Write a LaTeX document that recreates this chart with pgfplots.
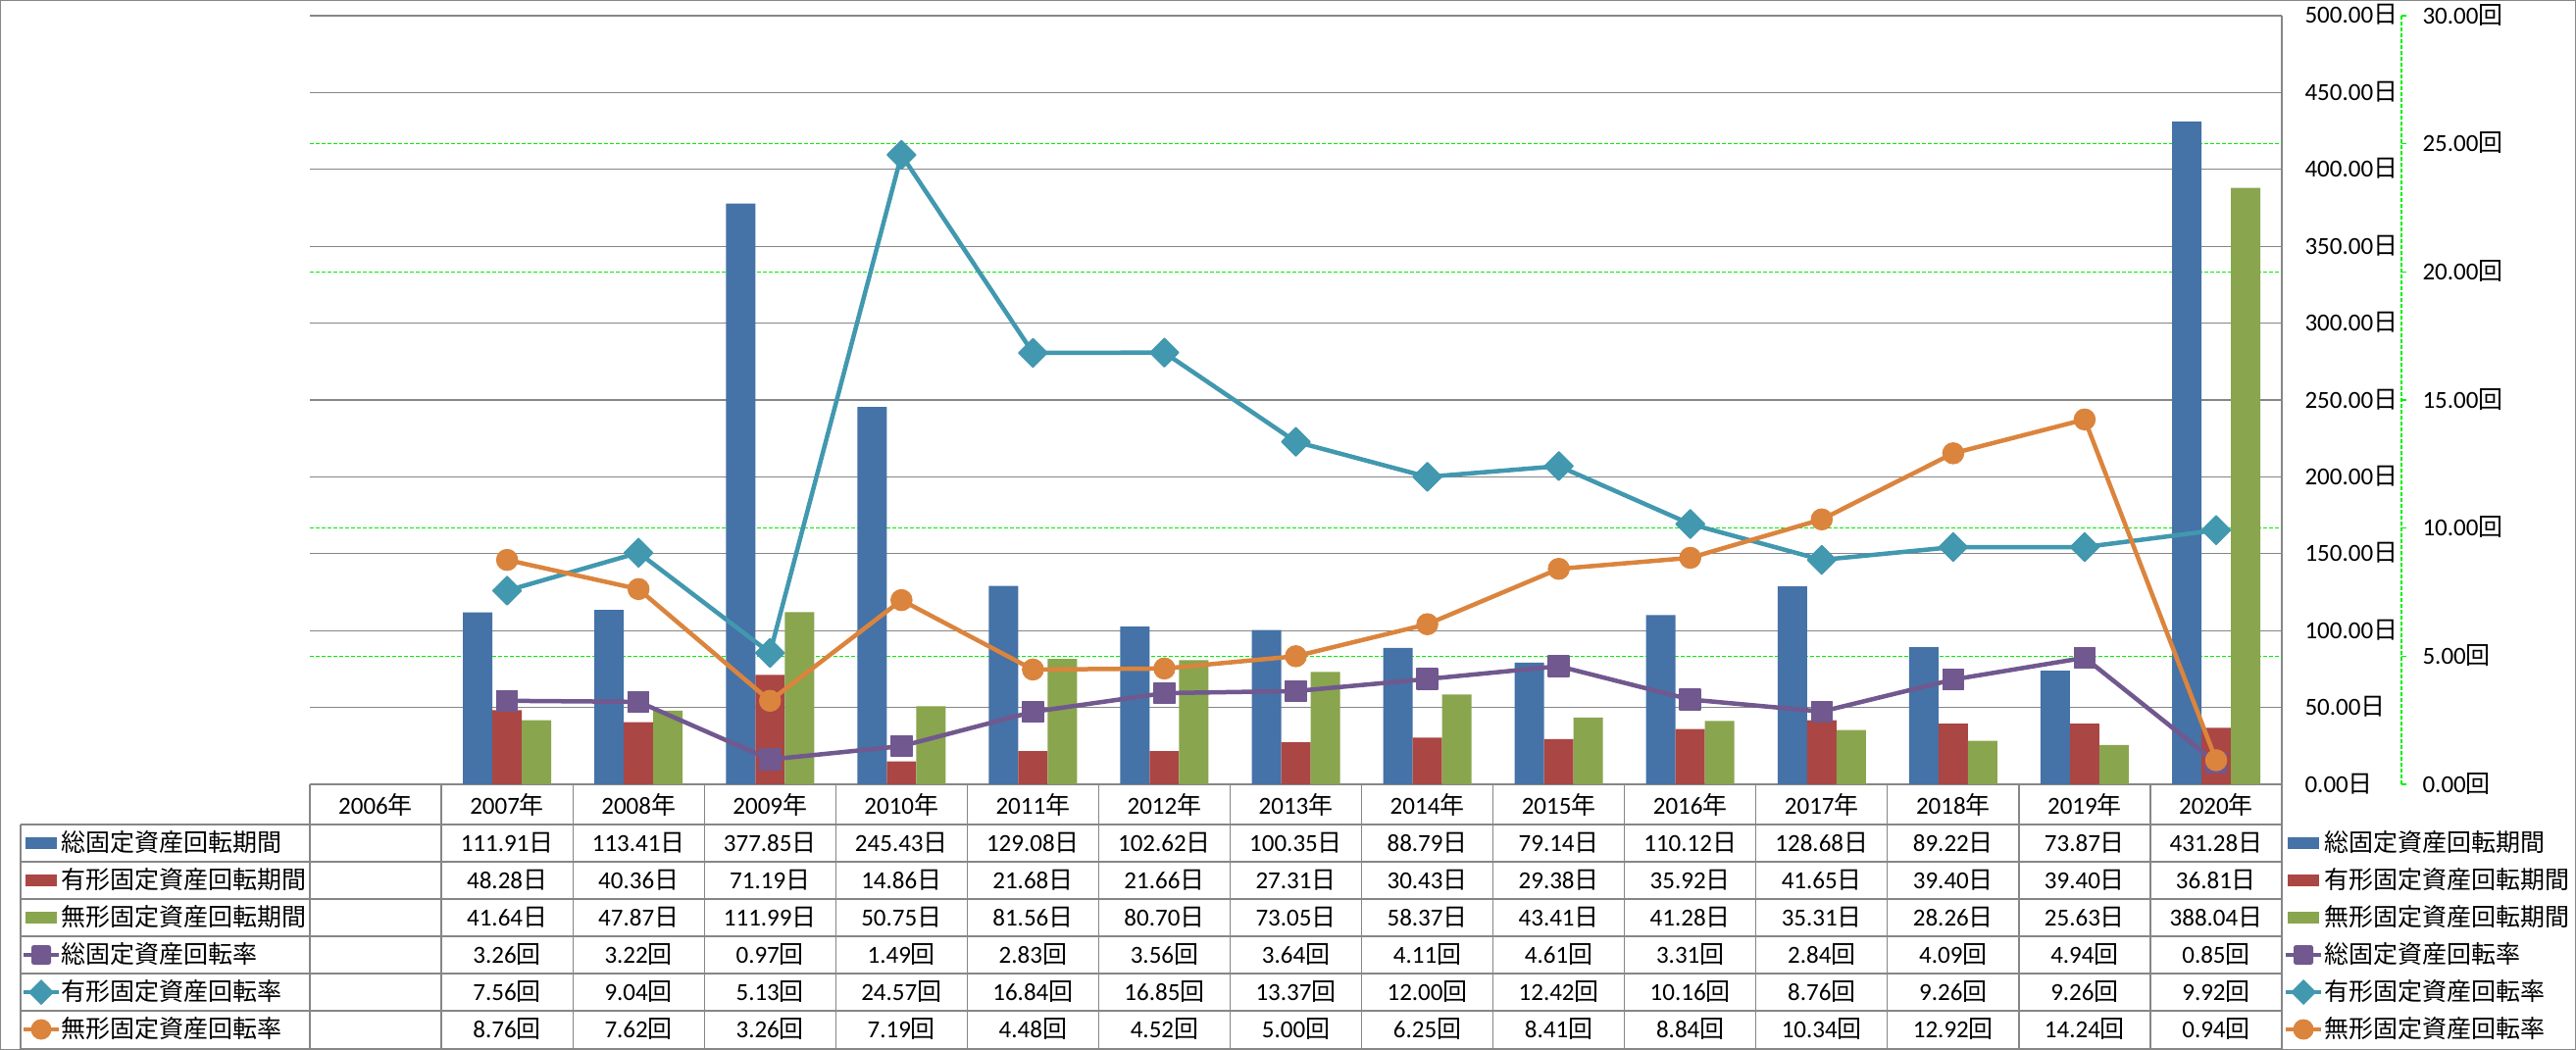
\documentclass[border=0pt]{standalone}
\usepackage{fontspec}
\setmainfont{Carlito}
\newfontfamily\jp{Noto Sans CJK JP}
\usepackage{pgfplots}
\usepackage{pgfplotstable}
\pgfplotsset{compat=1.18}
\pgfkeys{/pgf/number format/assume math mode=true}

\definecolor{cBlue}{RGB}{69,114,167}
\definecolor{cRed}{RGB}{170,70,67}
\definecolor{cGreen}{RGB}{137,165,78}
\definecolor{cPurple}{RGB}{113,88,143}
\definecolor{cTeal}{RGB}{65,152,175}
\definecolor{cOrange}{RGB}{219,132,61}
\definecolor{gridgray}{RGB}{134,134,134}
\definecolor{lime}{RGB}{0,240,0}

\newcommand{\nichi}{{\jp 日}}
\newcommand{\kai}{{\jp 回}}
\newcommand{\nen}{{\jp 年}}

\pgfplotstableread{
x yr tot tan intan rtot rtan rintan
0 2006 nan nan nan nan nan nan
1 2007 111.91 48.28 41.64 3.26 7.56 8.76
2 2008 113.41 40.36 47.87 3.22 9.04 7.62
3 2009 377.85 71.19 111.99 0.97 5.13 3.26
4 2010 245.43 14.86 50.75 1.49 24.57 7.19
5 2011 129.08 21.68 81.56 2.83 16.84 4.48
6 2012 102.62 21.66 80.70 3.56 16.85 4.52
7 2013 100.35 27.31 73.05 3.64 13.37 5.00
8 2014 88.79 30.43 58.37 4.11 12.00 6.25
9 2015 79.14 29.38 43.41 4.61 12.42 8.41
10 2016 110.12 35.92 41.28 3.31 10.16 8.84
11 2017 128.68 41.65 35.31 2.84 8.76 10.34
12 2018 89.22 39.40 28.26 4.09 9.26 12.92
13 2019 73.87 39.40 25.63 4.94 9.26 14.24
14 2020 431.28 36.81 388.04 0.85 9.92 0.94
}\data

\begin{document}
\begin{tikzpicture}
% ---------- primary axis: bars (days) ----------
\begin{axis}[
  at={(126.4pt,-320pt)}, anchor=south west,
  width=804.4pt, height=313.6pt, scale only axis,
  xmin=-0.5, xmax=14.5, ymin=0, ymax=500,
  axis x line=none, axis y line*=right,
  y axis line style={draw=gridgray, line width=0.5pt},
  ytick distance=50, major tick length=0pt,
  yticklabel={\pgfmathprintnumber[fixed,fixed zerofill,precision=2]{\tick}\nichi},
  yticklabel style={anchor=base west, inner sep=0pt, xshift=9.2pt, yshift=-3.2pt},
  ymajorgrids, major grid style={draw=gridgray, line width=0.5pt},
  extra y ticks={83.3333,166.6667,333.3333,416.6667},
  extra y tick style={grid=major, yticklabel={}, major tick length=0pt,
     major grid style={draw=lime, dash pattern=on 1.6pt off 0.8pt, line width=0.45pt}},
  ybar=0pt, bar width=12pt,
  clip=false,
]
\addplot[fill=cBlue, draw=none] table[x=x,y=tot]{\data};
\addplot[fill=cRed, draw=none] table[x=x,y=tan]{\data};
\addplot[fill=cGreen, draw=none] table[x=x,y=intan]{\data};
\end{axis}
% ---------- secondary axis: lines (times) ----------
\begin{axis}[
  at={(126.4pt,-320pt)}, anchor=south west,
  width=804.4pt, height=313.6pt, scale only axis,
  xmin=-0.5, xmax=14.5, ymin=0, ymax=30,
  axis x line=none, axis y line*=right,
  y axis line style={draw=none},
  ytick distance=5, major tick length=0pt,
  yticklabel={\pgfmathprintnumber[fixed,fixed zerofill,precision=2]{\tick}\kai},
  yticklabel style={anchor=base west, inner sep=0pt, xshift=57.2pt, yshift=-3.2pt},
  clip=false,
]
\addplot[cPurple, line width=1.8pt, line join=round, mark=square*, mark size=4.2pt,
  mark options={fill=cPurple, draw=cPurple, line width=0.6pt, line join=round}] table[x=x,y=rtot]{\data};
\addplot[cTeal, line width=1.8pt, line join=round, mark=square*, mark size=4.1pt,
  mark options={rotate=45, fill=cTeal, draw=cTeal, line width=0.6pt}] table[x=x,y=rtan]{\data};
\addplot[cOrange, line width=1.8pt, line join=round, mark=*, mark size=4.3pt,
  mark options={fill=cOrange, draw=cOrange, line width=0.4pt}] table[x=x,y=rintan]{\data};
\end{axis}
% ---------- decorations, data table, legend (pixel coordinates) ----------
\begin{scope}[x=0.4pt, y=-0.4pt]
  % secondary axis line
  \draw[lime, line width=0.45pt, dash pattern=on 1.6pt off 0.8pt] (2449,16) -- (2449,800);
  \foreach \v in {0,5,...,30} \draw[lime, line width=0.45pt] (2449,{800-\v*26.13333}) -- (2454,{800-\v*26.13333});
  % table grid
  \begin{scope}[gridgray, line width=0.5pt]
    \draw (316,800.5) -- (2327,800.5);
    \foreach \yy in {841,879,917,955,993,1031,1069.5} \draw (21,\yy) -- (2327,\yy);
    \draw (21,841) -- (21,1069.5);
    \foreach \k in {0,...,15} \draw ({316+134.0667*\k},800) -- ({316+134.0667*\k},1069.5);
  \end{scope}
  % header years
  \foreach \i in {0,...,14} {
    \pgfplotstablegetelem{\i}{yr}\of\data
    \node[anchor=base, inner sep=0pt] at ({316+134.0667*(\i+0.5)},830) {\pgfplotsretval\nen};
  }
  % values
  \foreach \i in {1,...,14} {
    \pgfplotstablegetelem{\i}{tot}\of\data
    \node[anchor=base, inner sep=0pt] at ({316+134.0667*(\i+0.5)},868) {\pgfplotsretval\nichi};
    \pgfplotstablegetelem{\i}{tan}\of\data
    \node[anchor=base, inner sep=0pt] at ({316+134.0667*(\i+0.5)},906) {\pgfplotsretval\nichi};
    \pgfplotstablegetelem{\i}{intan}\of\data
    \node[anchor=base, inner sep=0pt] at ({316+134.0667*(\i+0.5)},944) {\pgfplotsretval\nichi};
    \pgfplotstablegetelem{\i}{rtot}\of\data
    \node[anchor=base, inner sep=0pt] at ({316+134.0667*(\i+0.5)},982) {\pgfplotsretval\kai};
    \pgfplotstablegetelem{\i}{rtan}\of\data
    \node[anchor=base, inner sep=0pt] at ({316+134.0667*(\i+0.5)},1020) {\pgfplotsretval\kai};
    \pgfplotstablegetelem{\i}{rintan}\of\data
    \node[anchor=base, inner sep=0pt] at ({316+134.0667*(\i+0.5)},1058) {\pgfplotsretval\kai};
  }
  % legend keys: left (in table) and right
  \foreach \dx/\tx in {0/62, 2307/2370} {
    \fill[cBlue]  ({26+\dx},854) rectangle ({58+\dx},866);
    \fill[cRed]   ({26+\dx},892) rectangle ({58+\dx},904);
    \fill[cGreen] ({26+\dx},930) rectangle ({58+\dx},942);
    \draw[cPurple, line width=1.8pt] ({24+\dx},974) -- ({60+\dx},974);
    \fill[cPurple, rounded corners=1pt] ({32+\dx},964) rectangle ({52+\dx},984);
    \draw[cTeal, line width=1.8pt] ({24+\dx},1012) -- ({60+\dx},1012);
    \fill[cTeal] ({42+\dx},999) -- ({55+\dx},1012) -- ({42+\dx},1025) -- ({29+\dx},1012) -- cycle;
    \draw[cOrange, line width=1.8pt] ({24+\dx},1050) -- ({60+\dx},1050);
    \fill[cOrange] ({42+\dx},1050) circle (4.2pt);
    \node[anchor=base west, inner sep=0pt] at (\tx,868) {\jp 総固定資産回転期間};
    \node[anchor=base west, inner sep=0pt] at (\tx,906) {\jp 有形固定資産回転期間};
    \node[anchor=base west, inner sep=0pt] at (\tx,944) {\jp 無形固定資産回転期間};
    \node[anchor=base west, inner sep=0pt] at (\tx,982) {\jp 総固定資産回転率};
    \node[anchor=base west, inner sep=0pt] at (\tx,1020) {\jp 有形固定資産回転率};
    \node[anchor=base west, inner sep=0pt] at (\tx,1058) {\jp 無形固定資産回転率};
  }
  % outer border
  \draw[gridgray, line width=0.5pt] (0.6,0.6) rectangle (2626.4,1070.4);
  \pgfresetboundingbox
  \path[use as bounding box] (0,0) rectangle (2627,1071);
\end{scope}
\end{tikzpicture}
\end{document}
